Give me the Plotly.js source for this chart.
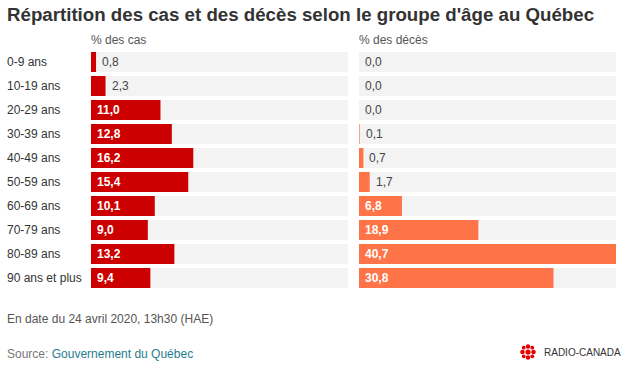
<!DOCTYPE html>
<html>
<head>
<meta charset="utf-8">
<script src="https://cdn.plot.ly/plotly-3.0.1.min.js"></script>
<style>html,body{margin:0;padding:0;background:#fff;}#chart{width:631px;height:373px;}</style>
</head>
<body>
<div id="chart"></div>
<script>
const groups = ["0-9 ans","10-19 ans","20-29 ans","30-39 ans","40-49 ans","50-59 ans","60-69 ans","70-79 ans","80-89 ans","90 ans et plus"];
const cases = [0.8, 2.3, 11.0, 12.8, 16.2, 15.4, 10.1, 9.0, 13.2, 9.4];
const deaths = [0.0, 0.0, 0.0, 0.1, 0.7, 1.7, 6.8, 18.9, 40.7, 30.8];
const panelTitles = ["% des cas", "% des décès"];
const chartTitle = "Répartition des cas et des décès selon le groupe d'âge au Québec";
const dateNote = "En date du 24 avril 2020, 13h30 (HAE)";
const sourceLabel = "Source: ";
const sourceName = "Gouvernement du Québec";
const brand = "RADIO-CANADA";

const W = 631, H = 373;
const L = 91, R = 15, T = 50, B = 83;
const PW = W - L - R, PH = H - T - B;
const px2x = p => (p - L) / PW;
const py2y = p => (H - B - p) / PH;

const maxV = Math.max(...cases, ...deaths);
const bgVals = groups.map(() => maxV);
const fmt = v => v.toFixed(1).replace('.', ',');
const FONT = "Liberation Sans, Arial, sans-serif";

const traces = [
  {type:'bar', orientation:'h', y:groups, x:bgVals, xaxis:'x', yaxis:'y', marker:{color:'#f3f3f3'}, hoverinfo:'skip'},
  {type:'bar', orientation:'h', y:groups, x:cases, xaxis:'x', yaxis:'y', marker:{color:'#cc0000'}, hoverinfo:'skip'},
  {type:'bar', orientation:'h', y:groups, x:bgVals, xaxis:'x2', yaxis:'y', marker:{color:'#f3f3f3'}, hoverinfo:'skip'},
  {type:'bar', orientation:'h', y:groups, x:deaths, xaxis:'x2', yaxis:'y', marker:{color:'#ff7349'}, hoverinfo:'skip'}
];

const ann = [];
function valueLabels(vals, xref) {
  vals.forEach((v, i) => {
    const inside = v >= 5;
    ann.push({xref:xref, yref:'y', x: inside ? 0 : v, y: groups[i], xanchor:'left', yanchor:'middle',
      xshift: 4, showarrow:false, text: inside ? '<b>'+fmt(v)+'</b>' : fmt(v),
      font:{family:FONT, size:12, color: inside ? '#ffffff' : '#444444'}});
  });
}
valueLabels(cases, 'x');
valueLabels(deaths, 'x2');
groups.forEach(g => {
  ann.push({xref:'paper', yref:'y', x:px2x(5), y:g, xanchor:'left', yanchor:'middle', showarrow:false,
    text:g, font:{family:FONT, size:12, color:'#333333'}});
});
ann.push({xref:'paper', yref:'paper', x:px2x(5), y:py2y(14), xanchor:'left', yanchor:'middle', showarrow:false,
  text:'<b>'+chartTitle+'</b>', font:{family:FONT, size:18.7, color:'#333333'}});
ann.push({xref:'paper', yref:'paper', x:px2x(89), y:py2y(40), xanchor:'left', yanchor:'middle', showarrow:false,
  text:panelTitles[0], font:{family:FONT, size:12, color:'#555555'}});
ann.push({xref:'paper', yref:'paper', x:px2x(357), y:py2y(40), xanchor:'left', yanchor:'middle', showarrow:false,
  text:panelTitles[1], font:{family:FONT, size:12, color:'#555555'}});
ann.push({xref:'paper', yref:'paper', x:px2x(5), y:py2y(319), xanchor:'left', yanchor:'middle', showarrow:false,
  text:dateNote, font:{family:FONT, size:12, color:'#555555'}});
ann.push({xref:'paper', yref:'paper', x:px2x(5), y:py2y(354), xanchor:'left', yanchor:'middle', showarrow:false,
  text:'<span style="color:#777777">'+sourceLabel+'</span><span style="color:#1f7d8e">'+sourceName+'</span>',
  font:{family:FONT, size:12, color:'#777777'}});
ann.push({xref:'paper', yref:'paper', x:px2x(542), y:py2y(352), xanchor:'left', yanchor:'middle', showarrow:false,
  text:brand, font:{family:FONT, size:10, color:'#333333'}});

// CBC gem logo built from circles
const shapes = [];
const gx = 528, gy = 352;
function circ(cx, cy, r) {
  shapes.push({type:'circle', xref:'paper', yref:'paper', x0:px2x(cx-r), x1:px2x(cx+r), y0:py2y(cy+r), y1:py2y(cy-r),
    fillcolor:'#e60000', line:{width:0}});
}
circ(gx, gy, 2.6);
[[0,-5.5],[0,5.5],[-5.5,0],[5.5,0]].forEach(d => circ(gx+d[0], gy+d[1], 2.3));
[[-4.3,-4.3],[4.3,-4.3],[-4.3,4.3],[4.3,4.3]].forEach(d => circ(gx+d[0], gy+d[1], 1.9));

const layout = {
  width:W, height:H, margin:{l:L, r:R, t:T, b:B, pad:0},
  paper_bgcolor:'#ffffff', plot_bgcolor:'#ffffff',
  barmode:'overlay', bargap:4/24, showlegend:false,
  xaxis:{domain:[0, 257/PW], range:[0, maxV], visible:false, fixedrange:true},
  xaxis2:{domain:[268/PW, 1], range:[0, maxV], visible:false, fixedrange:true},
  yaxis:{type:'category', range:[groups.length-0.5, -0.5], visible:false, fixedrange:true},
  annotations:ann, shapes:shapes, font:{family:FONT}
};
Plotly.newPlot('chart', traces, layout, {displayModeBar:false, staticPlot:true});
</script>
</body>
</html>
